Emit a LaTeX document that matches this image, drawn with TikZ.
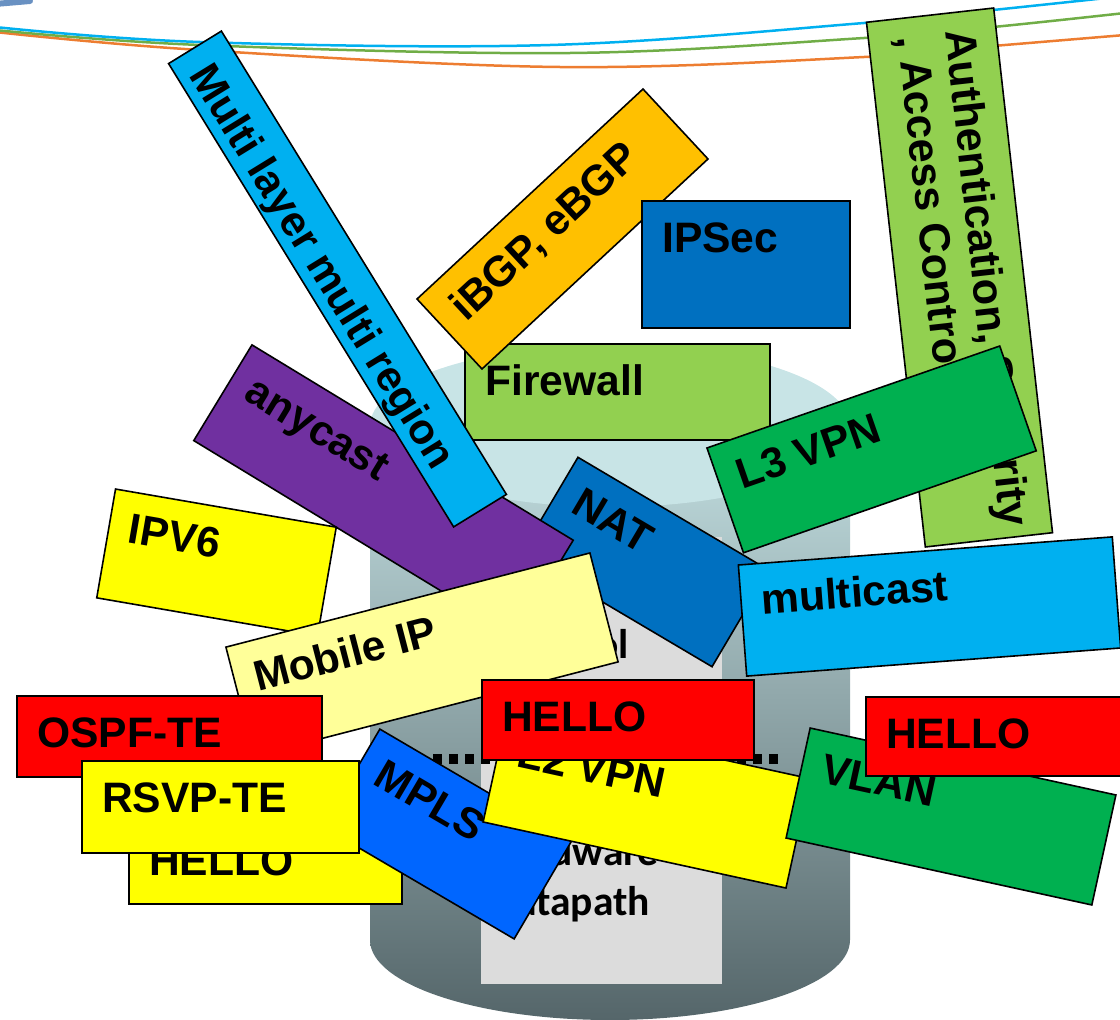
\documentclass[tikz,border=0pt]{standalone}
\usepackage{fontspec}
\setmainfont{Liberation Sans}
\newfontfamily\calfont{Carlito}
\definecolor{cCyan}{HTML}{00B0F0}
\definecolor{cGreenL}{HTML}{92D050}
\definecolor{cGreenD}{HTML}{00B050}
\definecolor{cBlue}{HTML}{0070C0}
\definecolor{cOrange}{HTML}{FFC000}
\definecolor{cPurple}{HTML}{7030A0}
\definecolor{cYellow}{HTML}{FFFF00}
\definecolor{cLightY}{HTML}{FFFF99}
\definecolor{cRed}{HTML}{FF0000}
\definecolor{cMPLS}{HTML}{0066FF}
\definecolor{lnBlue}{HTML}{00B0F0}
\definecolor{lnGreen}{HTML}{70AD47}
\definecolor{lnOrange}{HTML}{ED7D31}
\definecolor{cylTop}{HTML}{C3DFE1}
\definecolor{cylBot}{HTML}{55666A}
\definecolor{cylFace}{HTML}{C8E4E6}
\definecolor{grayRect}{HTML}{DCDCDC}
\definecolor{blobBlue}{HTML}{2A62A8}
\tikzset{
  tagrect/.style={draw=black,line width=1.6pt,inner sep=0pt,outer sep=0pt,rectangle},
  tagtext/.style={anchor=base west,inner sep=0pt,font=\bfseries\fontsize{42.6}{50}\selectfont},
  authtext/.style={anchor=base west,inner sep=0pt,font=\bfseries\fontsize{43.4}{50}\selectfont},
  caltext/.style={inner sep=0pt,font=\calfont\bfseries\fontsize{41.5}{48}\selectfont},
  wire/.style={line width=2.5pt},
}
% #1 name, #2 fill, #3 cx, #4 cy (image y), #5 w, #6 h, #7 angle, #8 text
\newcommand\tagbox[8]{%
  \begin{scope}[shift={(#3,-#4)},rotate=#7,transform shape]
    \node[tagrect,fill=#2,minimum width=#5pt,minimum height=#6pt] (#1) at (0,0) {};
    \node[tagtext] (#1t) at ({-(#5)/2+20},{(#6)/2-51}) {#8};
  \end{scope}}
\begin{document}
\begin{tikzpicture}[x=1pt,y=1pt]
\useasboundingbox (0,0) rectangle (1120,-1020);
\clip (0,0) rectangle (1120,-1020);
% small blue blob top-left
\draw[blobBlue,line width=6pt,opacity=.7,line cap=round] (-5,-4) -- (30,-1);
% wires
\draw[wire,lnOrange] plot[smooth,tension=0.6] coordinates {(-5,-32) (200,-50) (560,-67) (864,-57) (993,-46) (1125,-35)};
\draw[wire,lnGreen] plot[smooth,tension=0.6] coordinates {(-5,-30) (200,-45) (570,-53) (864,-38) (993,-27) (1125,-13)};
\draw[wire,lnBlue] plot[smooth,tension=0.6] coordinates {(-5,-27) (200,-42) (550,-45) (864,-23) (993,-10) (1125,4)};
% cylinder
\shade[top color=cylTop,bottom color=cylBot] (370,-426) -- (370,-940) arc[start angle=180,end angle=360,x radius=240,y radius=80] -- (850,-426) -- cycle;
\fill[cylFace] (610,-426) ellipse[x radius=240,y radius=81];
\fill[grayRect] (481,-537) rectangle (722,-984);
\node[caltext,anchor=base east] (ctl) at (629,-658) {Control};
\node[caltext,anchor=base east] (hw) at (659,-865) {Hardware};
\node[caltext,anchor=base east] (dp) at (650,-915) {datapath};
\draw[line width=10pt,dash pattern=on 9pt off 7pt] (433,-759) -- (782,-759);
% boxes
\tagbox{fw}{cGreenL}{617.5}{392}{305}{96}{0}{Firewall}
\tagbox{bgp}{cOrange}{562.5}{229}{308.5}{95.5}{42.9}{iBGP, eBGP}
\tagbox{ipsec}{cBlue}{746}{264.5}{208}{127}{0}{IPSec}
\begin{scope}[shift={(959.5,-277.5)},rotate=-83.6,transform shape]
  \node[tagrect,fill=cGreenL,minimum width=528pt,minimum height=128pt] (auth) at (0,0) {};
  \node[authtext] (autha) at (-246,13) {Authentication, Security};
  \node[authtext] (authb) at (-246,-35) {, Access Control};
\end{scope}
\tagbox{l3}{cGreenD}{871.6}{449.4}{310}{111}{19.2}{L3 VPN}
\tagbox{nat}{cBlue}{645}{562}{222}{112}{-30.6}{NAT}
\tagbox{any}{cPurple}{383.5}{490.4}{376}{112}{-31.3}{anycast}
\tagbox{mlmr}{cCyan}{337.5}{279}{544}{62}{-58.4}{Multi layer multi region}
\tagbox{ipv6}{cYellow}{216.5}{562.5}{224}{110.4}{-9.8}{IPV6}
\tagbox{mip}{cLightY}{422}{654.5}{376}{112.5}{14.5}{Mobile IP}
\tagbox{mc}{cCyan}{929.5}{606.5}{375}{111.4}{4.3}{multicast}
\tagbox{hy}{cYellow}{265.5}{864}{273}{80}{0}{HELLO}
\tagbox{mpls}{cMPLS}{447}{834}{222}{113}{-30.4}{MPLS}
\tagbox{l2}{cYellow}{646.5}{800.3}{310}{112}{-12.3}{L2 VPN}
\tagbox{vlan}{cGreenD}{951}{816.5}{313}{112.6}{-12.35}{VLAN}
\tagbox{hm}{cRed}{618}{720}{272}{80}{0}{HELLO}
\tagbox{hr}{cRed}{1002}{736.5}{272}{79}{0}{HELLO}
\tagbox{ospf}{cRed}{169.5}{736.5}{305}{81}{0}{OSPF-TE}
\tagbox{rsvp}{cYellow}{220.5}{807}{277}{92}{0}{RSVP-TE}
\end{tikzpicture}
\end{document}
